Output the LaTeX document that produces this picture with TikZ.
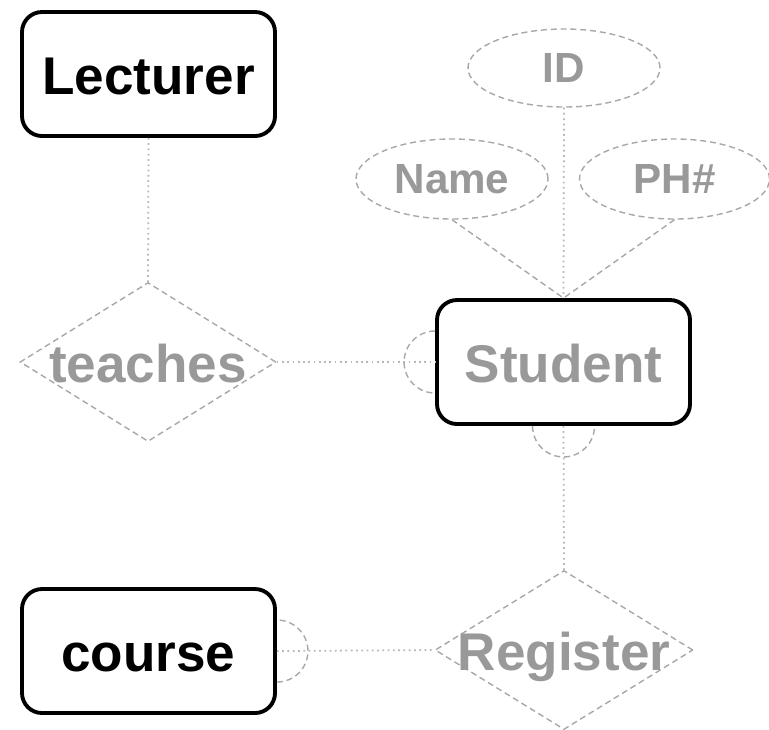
\documentclass[tikz,border=0pt]{standalone}
\usepackage{fontspec}
\setmainfont{Liberation Sans}
\usepackage{tikz}
\usetikzlibrary{shapes.geometric}

\definecolor{txtgray}{HTML}{999999}
\definecolor{linegray}{HTML}{A8A8A8}
\definecolor{dotgray}{HTML}{B8B8B8}

\newcommand{\bigfont}{\fontsize{15.1}{17}\selectfont\bfseries}
\newcommand{\smallfont}{\fontsize{12}{14}\selectfont\bfseries}

\tikzset{
  entity/.style={draw, line width=1.1pt, rounded corners=0.2cm,
    minimum width=2.53cm, minimum height=1.24cm, inner sep=0pt, font=\bigfont,
    text height=11.4pt, text depth=0pt},
  relation/.style={diamond, draw=linegray, line width=0.4pt,
    dash pattern=on 1.7pt off 1.1pt, minimum width=2.56cm, minimum height=1.59cm,
    inner sep=0pt},
  reltext/.style={font=\bigfont, text=txtgray, text height=11.4pt, text depth=0pt,
    inner sep=0pt},
  attribute/.style={ellipse, draw=linegray, line width=0.4pt,
    dash pattern=on 1.7pt off 1.1pt, minimum width=1.92cm, minimum height=0.78cm,
    inner sep=0pt, text=txtgray, font=\smallfont, text height=8.5pt, text depth=0pt},
  link/.style={draw=dotgray, line width=0.5pt, densely dotted},
  attrlink/.style={draw=linegray, line width=0.4pt, dash pattern=on 1.7pt off 1.1pt},
  arcmark/.style={draw=linegray, line width=0.4pt, dash pattern=on 1.7pt off 1.1pt}
}

\begin{document}
\begin{tikzpicture}

    \useasboundingbox (0,0) rectangle (7.69,7.29);

    % entities
    \node at (1.485,6.55) [entity] (lecturer) {Lecturer};
    \node at (5.635,3.67) [entity, text=txtgray] (student) {Student};
    \node at (1.485,0.78) [entity] (course) {course};

    % relationships
    \node at (1.48,3.67) [relation, label={[reltext]center:teaches}] (teaches) {};
    \node at (5.64,0.79) [relation, minimum width=2.58cm, label={[reltext]center:Register}] (register) {};

    % attributes of Student
    \node at (5.64,6.61) [attribute] (id) {ID};
    \node at (4.52,5.50) [attribute, minimum height=0.80cm] (name) {Name};
    \node at (6.745,5.50) [attribute, minimum width=1.90cm, minimum height=0.80cm] (phone) {PH\#};

    \draw[link] (lecturer.south) -- (teaches.north);
    \draw[link] (teaches.east) -- (student.west);
    \draw[link] (student.south) -- (register.north);
    \draw[link] (course.east) -- (register.west);

    \draw[link] (id.south) -- (student.north);
    \draw[attrlink] (name.south) -- (student.north);
    \draw[attrlink] (phone.south) -- (student.north);

    % participation marks
    \draw[arcmark] ([yshift=0.31cm]student.west) arc[start angle=90, end angle=270, radius=0.31cm];
    \draw[arcmark] ([xshift=-0.31cm]student.south) arc[start angle=180, end angle=360, radius=0.31cm];
    \draw[arcmark] ([yshift=-0.31cm]course.east) arc[start angle=-90, end angle=90, radius=0.31cm];

\end{tikzpicture}
\end{document}
